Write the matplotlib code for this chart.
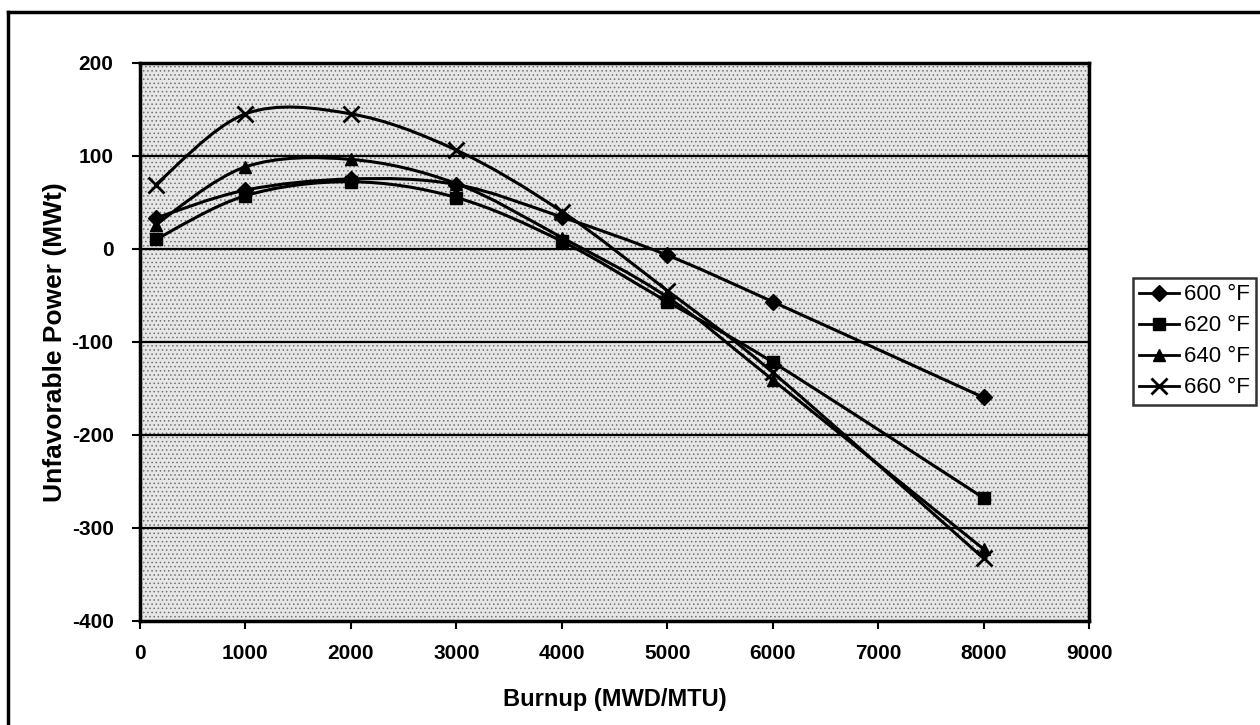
#!/usr/bin/env python3
# -*- coding: utf-8 -*-
"""Unfavorable power vs burnup, four coolant temperatures (Excel-style smoothed lines)."""

import matplotlib
matplotlib.use("Agg")
import matplotlib.pyplot as plt
from matplotlib.path import Path
from matplotlib.patches import PathPatch, Rectangle
from matplotlib.lines import Line2D
import numpy as np

# ─── data ─────────────────────────────────────────────────────────────────────

burnup = [150, 1000, 2000, 3000, 4000, 5000, 6000, 8000]

power_600 = [33, 63, 75, 69, 34, -7, -57, -160]
power_620 = [10, 57, 72, 55, 8, -57, -122, -268]
power_640 = [26, 88, 96, 70, 12, -52, -141, -323]
power_660 = [69, 145, 145, 106, 40, -45, -133, -333]

series_labels = ["600 °F", "620 °F", "640 °F", "660 °F"]
markers = ["D", "s", "^", "x"]

# ─── helpers ──────────────────────────────────────────────────────────────────

def smooth_path(xs, ys, sx=1.0, sy=1.0, t=1 / 6):
    """Bezier path through the points, like Excel's 'smoothed line'.
    Control points are worked out in roughly screen-proportional units."""
    p = np.column_stack([np.asarray(xs, float) * sx, np.asarray(ys, float) * sy])
    n = len(p)
    verts = [p[0]]
    codes = [Path.MOVETO]
    for i in range(n - 1):
        p0 = p[i - 1] if i > 0 else p[i]
        p1, p2 = p[i], p[i + 1]
        p3 = p[i + 2] if i + 2 < n else p[i + 1]
        c1 = p1 + (p2 - p0) * t
        c2 = p2 - (p3 - p1) * t
        verts += [c1, c2, p2]
        codes += [Path.CURVE4] * 3
    verts = np.array(verts)
    verts[:, 0] /= sx
    verts[:, 1] /= sy
    return Path(verts, codes)

# ─── plot ─────────────────────────────────────────────────────────────────────

plt.rcParams["font.family"] = ["Liberation Sans", "DejaVu Sans"]
plt.rcParams["axes.unicode_minus"] = False
plt.rcParams["hatch.linewidth"] = 0.6

fig = plt.figure(figsize=(12.6, 7.25), dpi=100)
ax = fig.add_axes([0.1111, 0.1439, 0.7532, 0.7696])

ax.set_xlim(0, 9000)
ax.set_ylim(-400, 200)

# stippled grey plot area
ax.set_facecolor("#e6e6e6")
ax.add_patch(Rectangle((0, -400), 9000, 600, facecolor="none",
                       edgecolor="#707070", hatch="....", linewidth=0, zorder=0.5))

for y in range(-300, 200, 100):
    ax.axhline(y, color="black", linewidth=1.6, zorder=1)

all_series = [power_600, power_620, power_640, power_660]
handles = []
for vals, lab, mk in zip(all_series, series_labels, markers):
    path = smooth_path(burnup, vals, sx=105.2 / 1000, sy=93.0 / 100)
    ax.add_patch(PathPatch(path, facecolor="none", edgecolor="black",
                           linewidth=2.2, zorder=3))
    size = {"D": 8, "s": 8, "^": 9, "x": 11}[mk]
    mew = 2 if mk == "x" else 1
    ax.plot(burnup, vals, linestyle="none", marker=mk, color="black",
            markersize=size, markeredgewidth=mew, zorder=4)
    handles.append(Line2D([], [], color="black", linewidth=2, marker=mk,
                          markersize=size, markeredgewidth=mew, label=lab))

ax.set_xticks(range(0, 9001, 1000))
ax.set_yticks(range(-400, 201, 100))
ax.tick_params(axis="both", direction="out", length=6, width=1.5, labelsize=15)
ax.tick_params(axis="x", pad=11)
ax.tick_params(axis="y", pad=13)
for lbl in ax.get_xticklabels() + ax.get_yticklabels():
    lbl.set_fontweight("bold")

for side in ax.spines.values():
    side.set_linewidth(2.5)
    side.set_color("black")

ax.set_xlabel("Burnup (MWD/MTU)", fontsize=17, fontweight="bold", labelpad=18)
ax.set_ylabel("Unfavorable Power (MWt)", fontsize=19, fontweight="bold", labelpad=3)

leg = fig.legend(handles=handles, loc="upper left", bbox_to_anchor=(0.899, 0.617),
                 frameon=True, fancybox=False, edgecolor="black", fontsize=16,
                 handlelength=1.8, handletextpad=0.2, borderpad=0.3,
                 labelspacing=0.45, borderaxespad=0)
leg.get_frame().set_linewidth(1.8)

# outer chart frame (only left and top edges survive in the scan)
fig.add_artist(Line2D([8 / 1260, 8 / 1260], [1 - 12 / 725, 0], color="black",
                      linewidth=2.5, transform=fig.transFigure))
fig.add_artist(Line2D([8 / 1260, 1], [1 - 12 / 725, 1 - 12 / 725], color="black",
                      linewidth=2.5, transform=fig.transFigure))

fig.savefig("out.png", dpi=100)
